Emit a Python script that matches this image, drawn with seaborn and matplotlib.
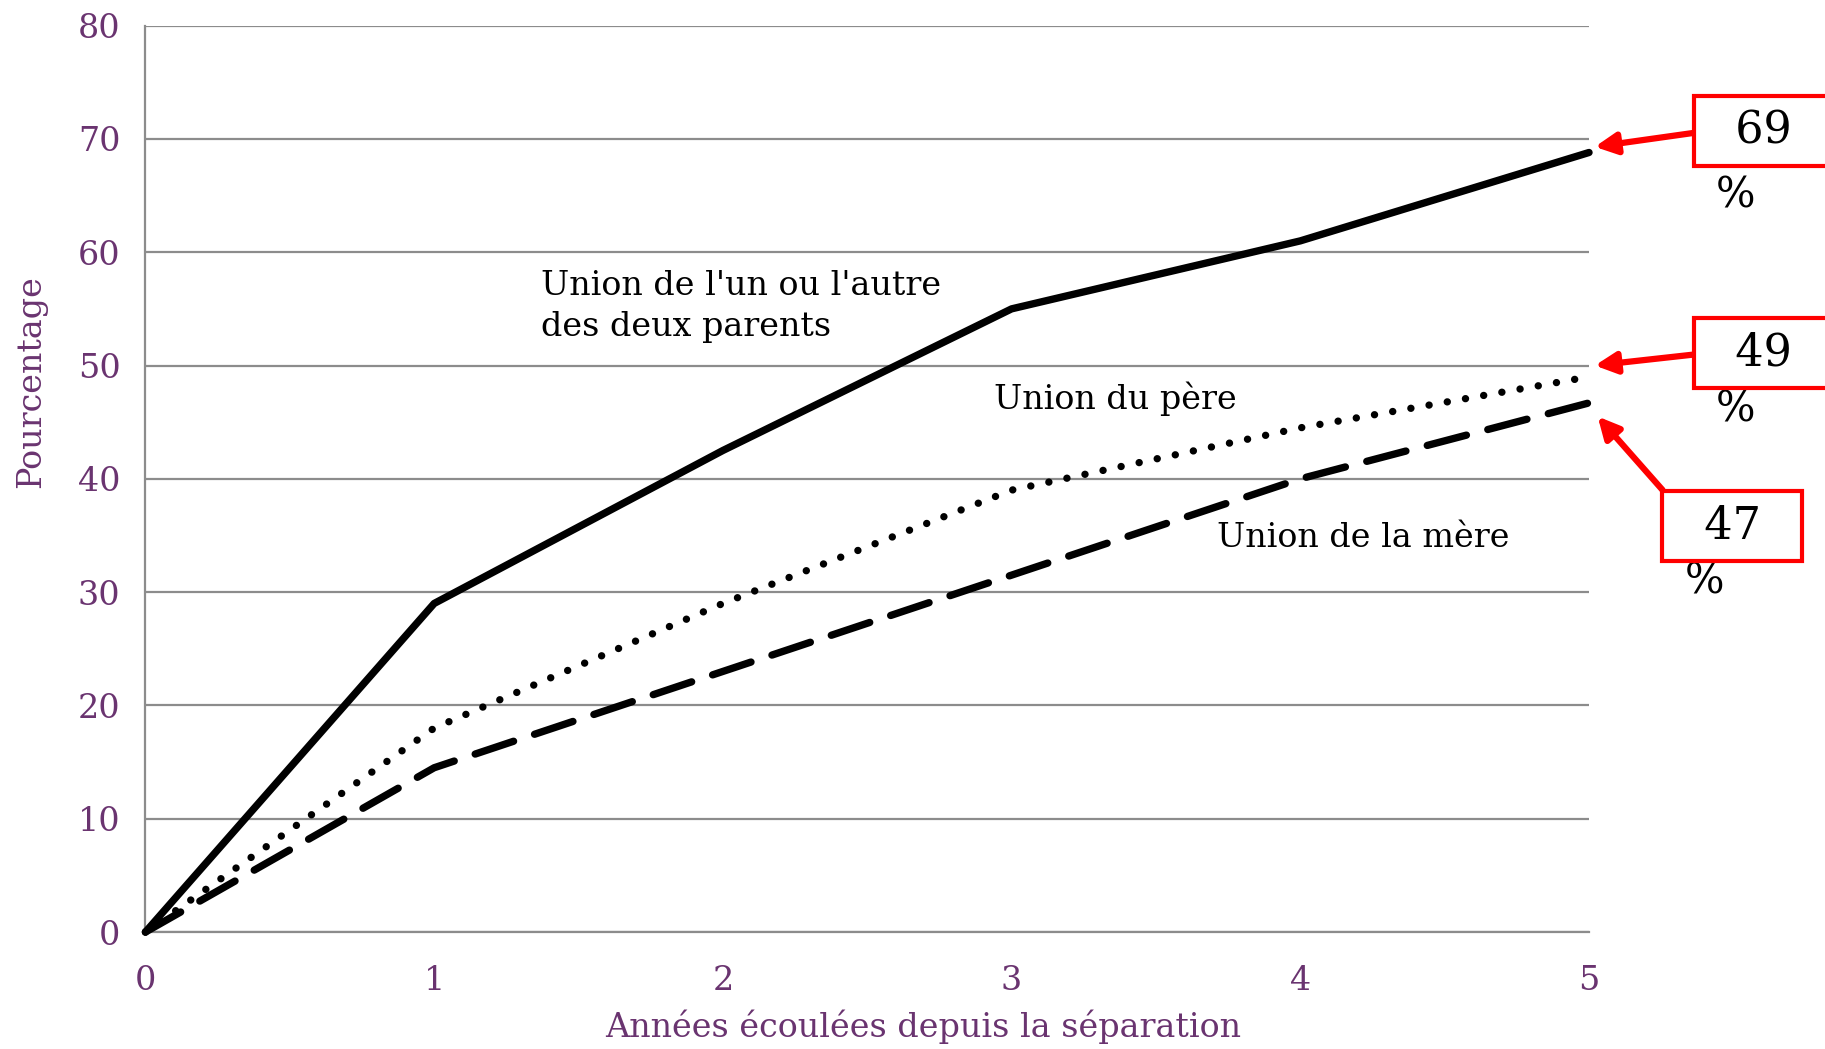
import matplotlib
matplotlib.use("Agg")
import matplotlib.pyplot as plt
import seaborn as sns
import pandas as pd

# years since separation
years = [0, 1, 2, 3, 4, 5]
# percentage of children whose parent(s) formed a new union
either_parent = [0, 29, 42.5, 55, 61, 68.8]
father = [0, 18, 29, 39, 44.5, 49]
mother = [0, 14.5, 23, 31.5, 40, 46.7]

series_names = ["Union de l'un ou l'autre\ndes deux parents", "Union du père", "Union de la mère"]
end_labels = ["69", "49", "47"]

purple = "#6a3470"
grid_grey = "#8c8c8c"

df = pd.DataFrame({
    "year": years * 3,
    "pct": either_parent + father + mother,
    "serie": [series_names[0]] * 6 + [series_names[1]] * 6 + [series_names[2]] * 6,
})

sns.set_style("white")
plt.rcParams["font.family"] = ["DejaVu Serif"]
plt.rcParams["text.color"] = "black"

fig = plt.figure(figsize=(18.25, 10.49), dpi=100)
ax = fig.add_axes([0.0797, 0.1115, 0.7910, 0.8641])

sns.lineplot(data=df, x="year", y="pct", hue="serie", style="serie",
             palette=["black"] * 3,
             dashes={series_names[0]: "", series_names[1]: (0.01, 2.5), series_names[2]: (5.5, 3.0)},
             linewidth=5.3, legend=False, ax=ax)
for ln in ax.get_lines():
    ln.set_dash_capstyle("round")
    ln.set_clip_on(False)
    ln.set_zorder(5)

ax.set_xlim(0, 5)
ax.set_ylim(0, 80)
ax.set_xticks(years)
ax.set_yticks(range(0, 81, 10))
ax.yaxis.grid(True, color=grid_grey, linewidth=1.6)
ax.set_axisbelow(True)
for side in ["top", "right"]:
    ax.spines[side].set_visible(False)
for side in ["left", "bottom"]:
    ax.spines[side].set_color(grid_grey)
    ax.spines[side].set_linewidth(1.6)
ax.tick_params(axis="both", colors=grid_grey, labelcolor=purple, labelsize=24,
               length=10, width=1.6, direction="out")
ax.tick_params(axis="x", pad=14)
ax.tick_params(axis="y", pad=8)

ax.set_xlabel("Années écoulées depuis la séparation", color=purple, fontsize=24, va="center")
ax.set_ylabel("Pourcentage", color=purple, fontsize=24)
ax.xaxis.set_label_coords(0.539, -0.104)
ax.yaxis.set_label_coords(-0.068, 0.607)

# inline series labels
ax.text(1.37, 55.2, series_names[0], fontsize=24, va="center", ha="left", linespacing=1.35)
ax.text(2.94, 47.1, series_names[1], fontsize=24, va="center", ha="left")
ax.text(3.71, 34.8, series_names[2], fontsize=24, va="center", ha="left")

# red callout boxes pointing to the final values
finals = [either_parent[-1], father[-1], mother[-1]]
box_pos = [(5.41, 70.7), (5.41, 51.1), (5.30, 35.8)]
pct_pos = [(5.44, 65.0), (5.44, 46.1), (5.33, 30.9)]
arrow_tip = [(5.02, finals[0] + 0.5), (5.02, finals[1] + 1.0), (5.03, finals[2] - 1.2)]
rel = [(0, 0.5), (0, 0.5), (0, 1)]
for lab, bp, pp, tip, rp in zip(end_labels, box_pos, pct_pos, arrow_tip, rel):
    ax.annotate("  " + lab + "  ", xy=tip, xytext=bp, fontsize=32, va="center", ha="left",
                annotation_clip=False, zorder=6,
                bbox=dict(boxstyle="square,pad=0.3", fc="white", ec="red", lw=3),
                arrowprops=dict(arrowstyle="-|>", color="red", lw=4.5, mutation_scale=32,
                                relpos=rp, shrinkA=0, shrinkB=0))
    ax.text(pp[0], pp[1], "%", fontsize=30, va="center", ha="left", clip_on=False)

fig.savefig("out.png", dpi=100)
